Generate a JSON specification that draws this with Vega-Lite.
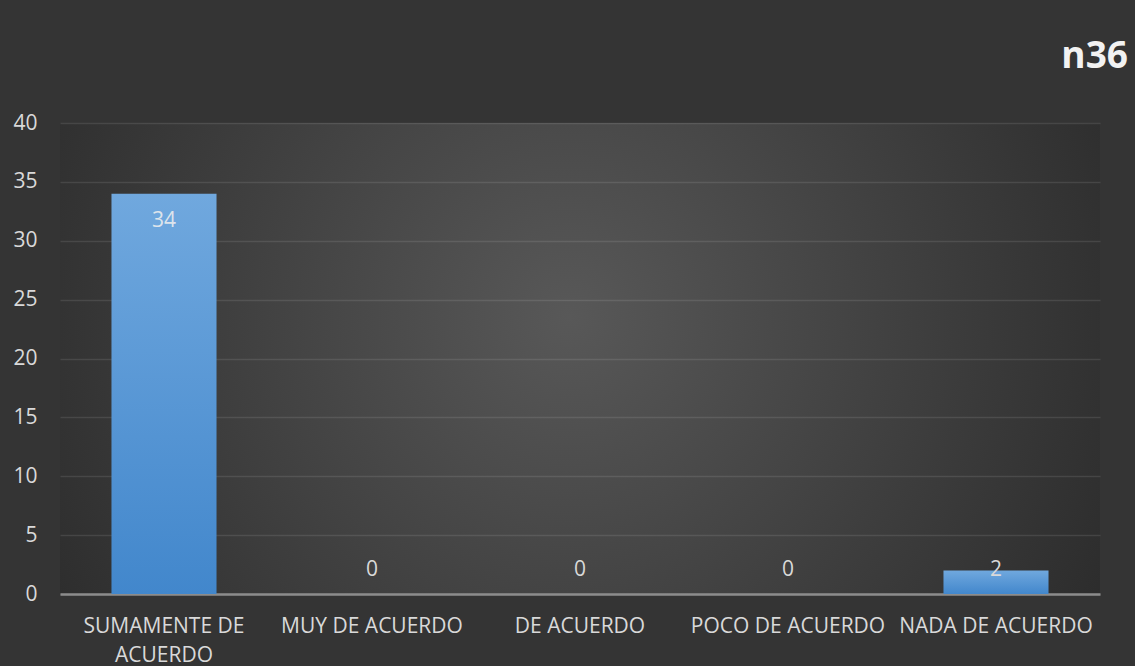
{
  "$schema": "https://vega.github.io/schema/vega-lite/v6.json",
  "width": 1040,
  "height": 471,
  "autosize": "none",
  "padding": {"left": 60, "top": 123, "right": 35, "bottom": 72},
  "background": "#343434",
  "title": {
    "text": "n36",
    "orient": "top",
    "anchor": "end",
    "frame": "group",
    "font": "Open Sans",
    "fontSize": 37,
    "fontWeight": "bold",
    "color": "#f2f2f2",
    "baseline": "alphabetic",
    "dx": 28,
    "offset": 7
  },
  "config": {
    "view": {
      "stroke": null,
      "fill": {
        "gradient": "radial",
        "x1": 0.49, "y1": 0.46, "r1": 0,
        "x2": 0.49, "y2": 0.46, "r2": 0.65,
        "stops": [
          {"offset": 0, "color": "#585858"},
          {"offset": 1, "color": "#272727"}
        ]
      }
    },
    "font": "Open Sans"
  },
  "data": {
    "values": [
      {"respuesta": "SUMAMENTE DE ACUERDO", "cantidad": 34},
      {"respuesta": "MUY DE ACUERDO", "cantidad": 0},
      {"respuesta": "DE ACUERDO", "cantidad": 0},
      {"respuesta": "POCO DE ACUERDO", "cantidad": 0},
      {"respuesta": "NADA DE ACUERDO", "cantidad": 2}
    ]
  },
  "encoding": {
    "x": {
      "field": "respuesta",
      "type": "nominal",
      "sort": null,
      "scale": {"paddingInner": 0.495, "paddingOuter": 0.2475},
      "axis": {
        "title": null,
        "labelAngle": 0,
        "ticks": false,
        "grid": false,
        "domainColor": "#8c8c8c",
        "domainWidth": 2.5,
        "labelPadding": 21,
        "labelFont": "Open Sans",
        "labelFontSize": 21,
        "labelColor": "#d9d9d9",
        "labelLineHeight": 29,
        "labelLimit": 0,
        "labelExpr": "datum.label == 'SUMAMENTE DE ACUERDO' ? ['SUMAMENTE DE', 'ACUERDO'] : datum.label"
      }
    }
  },
  "layer": [
    {
      "mark": {
        "type": "bar",
        "color": {
          "gradient": "linear",
          "x1": 0, "y1": 0, "x2": 0, "y2": 1,
          "stops": [
            {"offset": 0, "color": "#70a8de"},
            {"offset": 1, "color": "#4287cc"}
          ]
        }
      },
      "encoding": {
        "y": {
          "field": "cantidad",
          "type": "quantitative",
          "scale": {"domain": [0, 40]},
          "axis": {
            "title": null,
            "values": [0, 5, 10, 15, 20, 25, 30, 35, 40],
            "domain": false,
            "ticks": false,
            "labelPadding": 23,
            "labelFont": "Open Sans",
            "labelFontSize": 21,
            "labelColor": "#d9d9d9",
            "gridColor": "#ffffff",
            "gridOpacity": 0.1,
            "gridWidth": 1.5
          }
        }
      }
    },
    {
      "transform": [{"filter": "datum.cantidad >= 10"}],
      "mark": {
        "type": "text",
        "dy": 27,
        "baseline": "middle",
        "align": "center",
        "font": "Open Sans",
        "fontSize": 21,
        "color": "#dde4ec"
      },
      "encoding": {
        "y": {"field": "cantidad", "type": "quantitative"},
        "text": {"field": "cantidad", "type": "quantitative"}
      }
    },
    {
      "transform": [{"filter": "datum.cantidad < 10"}],
      "mark": {
        "type": "text",
        "dy": -24,
        "baseline": "middle",
        "align": "center",
        "font": "Open Sans",
        "fontSize": 21,
        "color": "#d9d9d9"
      },
      "encoding": {
        "y": {"datum": 0},
        "text": {"field": "cantidad", "type": "quantitative"}
      }
    }
  ]
}
